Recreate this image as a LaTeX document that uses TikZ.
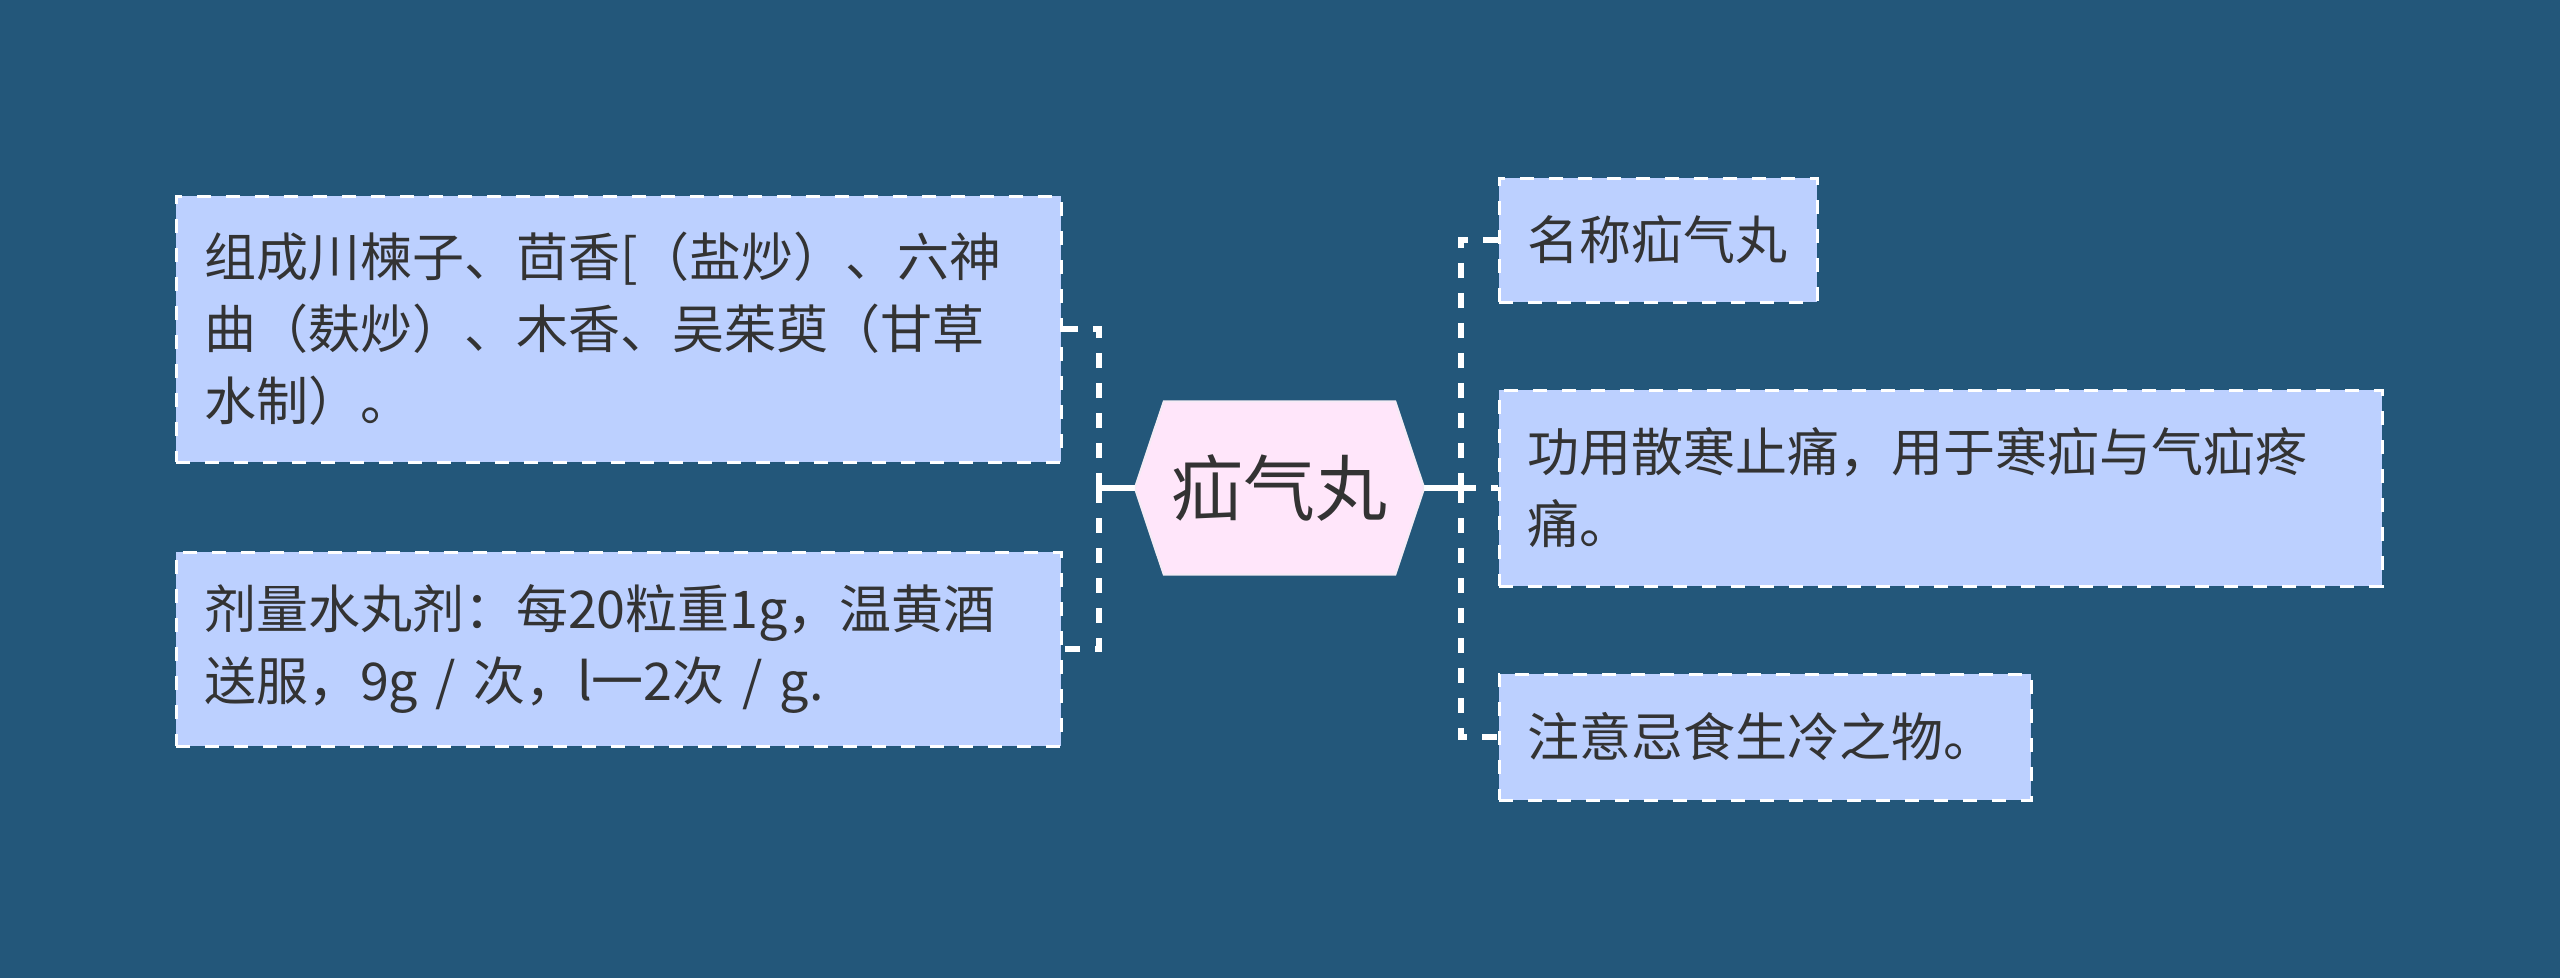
\documentclass[tikz,border=0pt]{standalone}
\usepackage{fontspec}
\newfontfamily\cjk{Noto Sans CJK SC}
\pgfdeclarelayer{bg}
\pgfsetlayers{bg,main}
\definecolor{bgc}{RGB}{35,87,122}
\definecolor{boxc}{RGB}{188,208,255}
\definecolor{rootc}{RGB}{255,230,250}
\definecolor{rootline}{RGB}{245,235,245}
\definecolor{txt}{RGB}{51,51,51}
\tikzset{
  leaf/.style={rectangle, fill=boxc, draw=white, line width=3pt, dash pattern=on 14pt off 15pt,
    text=txt, font=\cjk\fontsize{52}{72}\selectfont, align=left, inner xsep=28pt, inner ysep=0pt},
  link/.style={draw=white, line width=6pt, dash pattern=on 15pt off 15pt},
  trunk/.style={draw=white, line width=6pt},
  rootbox/.style={text=txt, font=\cjk\fontsize{72}{80}\selectfont, minimum width=289pt,
    minimum height=173pt, inner sep=0pt},
}
\begin{document}
\begin{tikzpicture}[x=1pt,y=-1pt]
\useasboundingbox (0,0) rectangle (2560,978);

\node[rootbox] (root) at (1279.5,488) {疝气丸};

\node[leaf, text width=829pt, minimum height=266pt] (l1) at (618.5,329)
  {组成川楝子、茴香[（盐炒）、六神\\曲（麸炒）、木香、吴茱萸（甘草\\水制）。};
\node[leaf, text width=829pt, minimum height=194pt] (l2) at (618.5,649)
  {剂量水丸剂：每20粒重1g，温黄酒\\送服，9g / 次，l一2次 / g.};

\node[leaf, text width=262pt, minimum height=124pt] (r1) at (1658,240) {名称疝气丸};
\node[leaf, text width=827pt, minimum height=196pt] (r2) at (1940.5,488)
  {功用散寒止痛，用于寒疝与气疝疼\\痛。};
\node[leaf, text width=476pt, minimum height=126pt] (r3) at (1765,737) {注意忌食生冷之物。};

\begin{pgfonlayer}{bg}
  \fill[bgc] (0,0) rectangle (2560,978);
  \draw[fill=rootc, draw=rootline, line width=2pt]
    (root.west) -- ([xshift=29pt]root.north west) -- ([xshift=-29pt]root.north east)
    -- (root.east) -- ([xshift=-29pt]root.south east) -- ([xshift=29pt]root.south west) -- cycle;
\end{pgfonlayer}

\coordinate (lj) at (1099,488);
\coordinate (rj) at (1461,488);
\draw[trunk] (root.west) -- (lj);
\draw[trunk] (root.east) -- (rj);
\draw[link] (lj) |- (l1.east);
\draw[link] (lj) |- (l2.east);
\draw[link] (rj) |- (r1.west);
\draw[link] (rj) -- (r2.west);
\draw[link] (rj) |- (r3.west);
\end{tikzpicture}
\end{document}
